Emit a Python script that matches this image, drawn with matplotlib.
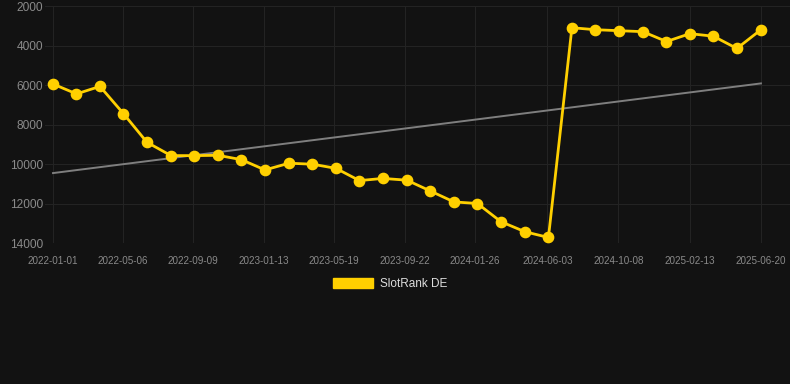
import matplotlib
matplotlib.use("Agg")
import matplotlib.pyplot as plt
import matplotlib.dates as mdates
import matplotlib.patches as mpatches
from datetime import datetime, timedelta

plt.rcParams['font.family'] = ['Liberation Sans', 'DejaVu Sans']

dates = ["2022-01-01", "2022-02-12", "2022-03-26", "2022-05-07", "2022-06-18",
         "2022-07-31", "2022-09-11", "2022-10-23", "2022-12-04", "2023-01-15",
         "2023-02-27", "2023-04-10", "2023-05-22", "2023-07-03", "2023-08-14",
         "2023-09-26", "2023-11-07", "2023-12-19", "2024-01-30", "2024-03-12",
         "2024-04-24", "2024-06-05", "2024-07-17", "2024-08-28", "2024-10-09",
         "2024-11-21", "2025-01-02", "2025-02-13", "2025-03-27", "2025-05-08",
         "2025-06-20"]
ranks = [5950, 6450, 6070, 7450, 8900, 9575, 9575, 9560, 9780, 10300,
         9960, 10010, 10220, 10840, 10730, 10820, 11370, 11920, 12000, 12920,
         13430, 13720, 3100, 3200, 3250, 3300, 3800, 3400, 3530, 4150,
         3200]
trend_dates = ["2022-01-01", "2025-06-20"]
trend_values = [10460, 5920]
tick_dates = ["2022-01-01", "2022-05-06", "2022-09-09", "2023-01-13", "2023-05-19",
              "2023-09-22", "2024-01-26", "2024-06-03", "2024-10-08", "2025-02-13",
              "2025-06-20"]
y_ticks = [2000, 4000, 6000, 8000, 10000, 12000, 14000]
series_name = "SlotRank DE"

bg = "#121212"
yellow = "#FFD000"
grid_c = "#232323"
tick_c = "#8a8a8a"

to_dt = lambda s: datetime.strptime(s, "%Y-%m-%d")
x = [to_dt(d) for d in dates]
tx = [to_dt(d) for d in trend_dates]
ticks = [to_dt(d) for d in tick_dates]

fig = plt.figure(figsize=(7.9, 3.84), dpi=100, facecolor=bg)
ax = fig.add_axes([45/790, 1 - 243/384, 745/790, 237/384], facecolor=bg)

ax.plot(tx, trend_values, color="#7f7f7f", lw=1.4, zorder=2)
ax.plot(x, ranks, color=yellow, lw=2.0, marker="o", markersize=7.4,
        markerfacecolor=yellow, markeredgecolor=yellow, zorder=3)

ax.set_ylim(14000, 2000)
ax.set_yticks(y_ticks)
ax.set_yticklabels([str(v) for v in y_ticks])
ax.set_xlim(ticks[0] - timedelta(days=14.3), ticks[-1] + timedelta(days=52))
ax.set_xticks(ticks)
ax.set_xticklabels(tick_dates)

ax.grid(True, color=grid_c, lw=0.8)
ax.set_axisbelow(True)
for s in ax.spines.values():
    s.set_visible(False)
ax.tick_params(axis='y', length=0, pad=1.5, labelsize=8.6, labelcolor=tick_c)
ax.tick_params(axis='x', length=0, pad=9, labelsize=7.1, labelcolor=tick_c)

handle = mpatches.Patch(color=yellow, label=series_name)
fig.legend(handles=[handle], loc="center", bbox_to_anchor=(390/790, 1 - 284/384),
           frameon=False, fontsize=8.5, labelcolor="#dddddd",
           handlelength=3.4, handleheight=0.95, handletextpad=0.55)

fig.savefig("out.png", dpi=100, facecolor=bg)
